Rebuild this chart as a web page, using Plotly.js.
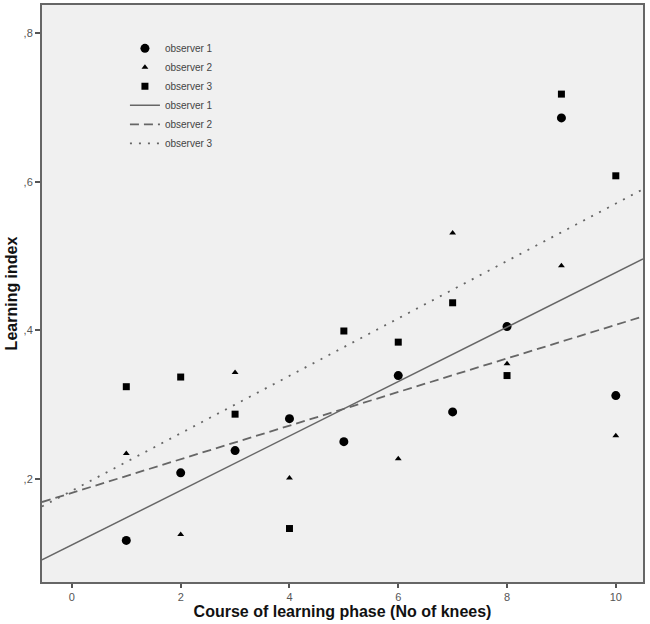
<!DOCTYPE html>
<html>
<head>
<meta charset="utf-8">
<script src="https://cdn.plot.ly/plotly-3.0.1.min.js"></script>
<style>
  html, body { margin: 0; padding: 0; background: #ffffff; }
  #chart { width: 650px; height: 624px; }
</style>
</head>
<body>
<div id="chart"></div>
<script>
  const kneeNo = [1, 2, 3, 4, 5, 6, 7, 8, 9, 10];
  const observer1 = [0.117, 0.208, 0.238, 0.281, 0.250, 0.339, 0.290, 0.405, 0.686, 0.312];
  const observer2X = [1, 2, 3, 4, 6, 7, 8, 9, 10];
  const observer2 = [0.234, 0.125, 0.343, 0.201, 0.227, 0.531, 0.355, 0.487, 0.258];
  const observer3 = [0.324, 0.337, 0.287, 0.133, 0.399, 0.384, 0.437, 0.339, 0.718, 0.608];
  const yTickVals = [0.2, 0.4, 0.6, 0.8];
  const yTickText = [",2", ",4", ",6", ",8"];
  const xTickVals = [0, 2, 4, 6, 8, 10];
  const xRange = [-0.55, 10.5];
  const yRange = [0.061, 0.838];

  // least squares fit, drawn across the whole x axis
  function fitLine(xs, ys) {
    const n = xs.length;
    const mx = xs.reduce((s, v) => s + v, 0) / n;
    const my = ys.reduce((s, v) => s + v, 0) / n;
    let sxy = 0, sxx = 0;
    for (let i = 0; i < n; i += 1) {
      sxy += (xs[i] - mx) * (ys[i] - my);
      sxx += (xs[i] - mx) * (xs[i] - mx);
    }
    const slope = sxy / sxx;
    const icpt = my - slope * mx;
    return { x: xRange, y: xRange.map((v) => icpt + slope * v) };
  }

  const fit1 = fitLine(kneeNo, observer1);
  const fit2 = fitLine(observer2X, observer2);
  const fit3 = fitLine(kneeNo, observer3);

  const traces = [
    {
      type: "scatter", mode: "markers", name: "observer 1",
      x: kneeNo, y: observer1,
      marker: { symbol: "circle", size: 9, color: "#000000" }
    },
    {
      type: "scatter", mode: "markers", name: "observer 2",
      x: observer2X, y: observer2,
      marker: { symbol: "triangle-up", size: 6, color: "#000000" }
    },
    {
      type: "scatter", mode: "markers", name: "observer 3",
      x: kneeNo, y: observer3,
      marker: { symbol: "square", size: 7, color: "#000000" }
    },
    {
      type: "scatter", mode: "lines", name: "observer 1",
      x: fit1.x, y: fit1.y,
      line: { color: "#666666", width: 1.5 }
    },
    {
      type: "scatter", mode: "lines", name: "observer 2",
      x: fit2.x, y: fit2.y,
      line: { color: "#666666", width: 1.8, dash: "9px,5px" }
    },
    {
      type: "scatter", mode: "lines", name: "observer 3",
      x: fit3.x, y: fit3.y,
      line: { color: "#666666", width: 1.8, dash: "2px,7px" }
    }
  ];

  const layout = {
    width: 650,
    height: 624,
    margin: { l: 42, r: 7, t: 5, b: 42 },
    paper_bgcolor: "#ffffff",
    plot_bgcolor: "#f0f0f0",
    font: { family: "Liberation Sans, Arial, sans-serif", color: "#555555", size: 11 },
    showlegend: true,
    legend: {
      x: 0.138, y: 0.95, xanchor: "left", yanchor: "top",
      bgcolor: "rgba(0,0,0,0)",
      font: { size: 10, color: "#444444" },
      itemwidth: 30,
      tracegroupgap: 0
    },
    xaxis: {
      range: xRange,
      tickvals: xTickVals,
      ticks: "outside", ticklen: 4, tickcolor: "#555555", tickwidth: 2,
      showgrid: false, zeroline: false,
      showline: true, mirror: true, linecolor: "#666666", linewidth: 2,
      tickfont: { size: 11, color: "#555555" },
      title: {
        text: "Course of learning phase (No of knees)",
        font: { size: 16, color: "#111111", family: "Liberation Sans, Arial, sans-serif", weight: "bold" },
        standoff: 4
      }
    },
    yaxis: {
      range: yRange,
      tickvals: yTickVals,
      ticktext: yTickText,
      ticks: "outside", ticklen: 5, tickcolor: "#555555", tickwidth: 2,
      showgrid: false, zeroline: false,
      showline: true, mirror: true, linecolor: "#666666", linewidth: 2,
      tickfont: { size: 11, color: "#555555" },
      title: {
        text: "Learning index",
        font: { size: 16, color: "#111111", family: "Liberation Sans, Arial, sans-serif", weight: "bold" },
        standoff: 2
      }
    }
  };

  Plotly.newPlot("chart", traces, layout, { displayModeBar: false, responsive: false });
</script>
</body>
</html>
